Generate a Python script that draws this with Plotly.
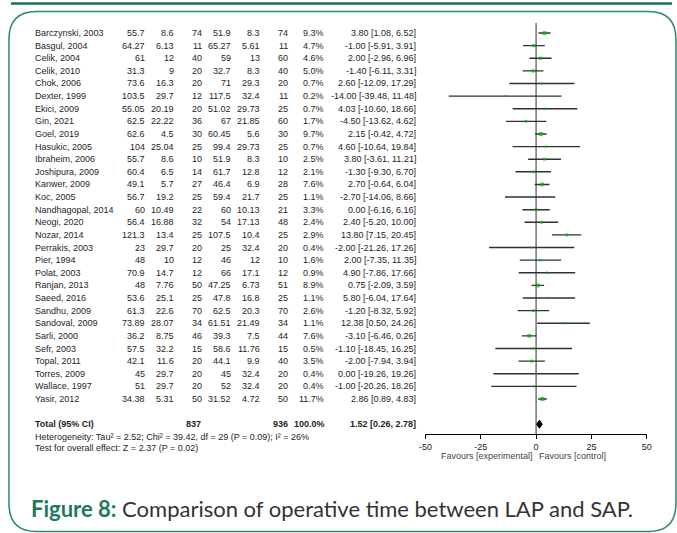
import plotly.graph_objects as go

W, H = 677, 533

studies = ["Barczynski, 2003", "Basgul, 2004", "Celik, 2004", "Celik, 2010", "Chok, 2006",
           "Dexter, 1999", "Ekici, 2009", "Gin, 2021", "Goel, 2019", "Hasukic, 2005",
           "Ibraheim, 2006", "Joshipura, 2009", "Kanwer, 2009", "Koc, 2005", "Nandhagopal, 2014",
           "Neogi, 2020", "Nozar, 2014", "Perrakis, 2003", "Pier, 1994", "Polat, 2003",
           "Ranjan, 2013", "Saeed, 2016", "Sandhu, 2009", "Sandoval, 2009", "Sarli, 2000",
           "Sefr, 2003", "Topal, 2011", "Torres, 2009", "Wallace, 1997", "Yasir, 2012"]
mean_exp = [55.7, 64.27, 61, 31.3, 73.6, 103.5, 55.05, 62.5, 62.6, 104,
            55.7, 60.4, 49.1, 56.7, 60, 56.4, 121.3, 23, 48, 70.9,
            48, 53.6, 61.3, 73.89, 36.2, 57.5, 42.1, 45, 51, 34.38]
sd_exp = [8.6, 6.13, 12, 9, 16.3, 29.7, 20.19, 22.22, 4.5, 25.04,
          8.6, 6.5, 5.7, 19.2, 10.49, 16.88, 13.4, 29.7, 10, 14.7,
          7.76, 25.1, 22.6, 28.07, 8.75, 32.2, 11.6, 29.7, 29.7, 5.31]
n_exp = [74, 11, 40, 20, 20, 12, 20, 36, 30, 25,
         10, 14, 27, 25, 22, 32, 25, 20, 12, 12,
         50, 25, 70, 34, 46, 15, 20, 20, 20, 50]
mean_ctl = [51.9, 65.27, 59, 32.7, 71, 117.5, 51.02, 67, 60.45, 99.4,
            51.9, 61.7, 46.4, 59.4, 60, 54, 107.5, 25, 46, 66,
            47.25, 47.8, 62.5, 61.51, 39.3, 58.6, 44.1, 45, 52, 31.52]
sd_ctl = [8.3, 5.61, 13, 8.3, 29.3, 32.4, 29.73, 21.85, 5.6, 29.73,
          8.3, 12.8, 6.9, 21.7, 10.13, 17.13, 10.4, 32.4, 12, 17.1,
          6.73, 16.8, 20.3, 21.49, 7.5, 11.76, 9.9, 32.4, 32.4, 4.72]
n_ctl = [74, 11, 60, 40, 20, 11, 25, 60, 30, 25,
         10, 12, 28, 25, 21, 48, 25, 20, 10, 12,
         51, 25, 70, 34, 44, 15, 40, 20, 20, 50]
weight = [9.3, 4.7, 4.6, 5.0, 0.7, 0.2, 0.7, 1.7, 9.7, 0.7,
          2.5, 2.1, 7.6, 1.1, 3.3, 2.4, 2.9, 0.4, 1.6, 0.9,
          8.9, 1.1, 2.6, 1.1, 7.6, 0.5, 3.5, 0.4, 0.4, 11.7]
md = [3.80, -1.00, 2.00, -1.40, 2.60, -14.00, 4.03, -4.50, 2.15, 4.60,
      3.80, -1.30, 2.70, -2.70, 0.00, 2.40, 13.80, -2.00, 2.00, 4.90,
      0.75, 5.80, -1.20, 12.38, -3.10, -1.10, -2.00, 0.00, -1.00, 2.86]
ci_low = [1.08, -5.91, -2.96, -6.11, -12.09, -39.48, -10.60, -13.62, -0.42, -10.64,
          -3.61, -9.30, -0.64, -14.06, -6.16, -5.20, 7.15, -21.26, -7.35, -7.86,
          -2.09, -6.04, -8.32, 0.50, -6.46, -18.45, -7.94, -19.26, -20.26, 0.89]
ci_high = [6.52, 3.91, 6.96, 3.31, 17.29, 11.48, 18.66, 4.62, 4.72, 19.84,
           11.21, 6.70, 6.04, 8.66, 6.16, 10.00, 20.45, 17.26, 11.35, 17.66,
           3.59, 17.64, 5.92, 24.26, 0.26, 16.25, 3.94, 19.26, 18.26, 4.83]
total_exp = 837
total_ctl = 936
total_weight = 100.0
total_md = 1.52
total_low = 0.26
total_high = 2.78
heterogeneity = "Heterogeneity: Tau² = 2.52; Chi² = 39.42, df = 29 (P = 0.09); I² = 26%"
overall_test = "Test for overall effect: Z = 2.37 (P = 0.02)"
x_ticks = [-50, -25, 0, 25, 50]
x_labels = ["-50", "-25", "0", "25", "50"]
favours = ["Favours [experimental]", "Favours [control]"]
caption_bold = "Figure 8:"
caption_rest = " Comparison of operative time between LAP and SAP."

# ---------- layout helpers ----------
ROW0, ROWH = 33.0, 12.62      # pixel y of first row, row spacing


def fx(px):
    return px / W


def fy(py):
    return 1 - py / H


def row_of(py):
    return (py - ROW0) / ROWH


FONT = "Liberation Sans, Arial, sans-serif"
TXT = "#1e1e1e"
rows = list(range(len(studies)))
total_row = len(studies) + 1

fig = go.Figure()

# CI lines + weighted squares
fig.add_trace(go.Scatter(
    x=md, y=rows, mode="markers",
    marker=dict(symbol="square", color="#00b400",
                size=[1.6 + 0.75 * w ** 0.5 for w in weight], line=dict(width=0)),
    error_x=dict(type="data", symmetric=False,
                 array=[h - m for h, m in zip(ci_high, md)],
                 arrayminus=[m - l for m, l in zip(md, ci_low)],
                 color="#303030", thickness=1.4, width=0),
    hoverinfo="skip", showlegend=False, cliponaxis=False))

# pooled diamond
dh = 4 / ROWH
fig.add_trace(go.Scatter(
    x=[total_low, total_md, total_high, total_md, total_low],
    y=[total_row, total_row - dh, total_row, total_row + dh, total_row],
    mode="lines", fill="toself", fillcolor="black",
    line=dict(color="black", width=1), hoverinfo="skip", showlegend=False))

ann = []


def txt(x, y, s, anchor="right", bold=False, size=9, color=TXT, yref="y"):
    if bold:
        s = "<b>" + s + "</b>"
    ann.append(dict(x=fx(x), xref="paper", y=y, yref=yref, text=s, showarrow=False,
                    xanchor=anchor, yanchor="middle",
                    font=dict(family=FONT, size=size, color=color)))


col_right = [142.7, 172.3, 200.3, 230.0, 259.3, 288.0, 325.0, 418.0]
for i in rows:
    txt(26, i, studies[i], anchor="left")
    vals = [str(mean_exp[i]), str(sd_exp[i]), str(n_exp[i]), str(mean_ctl[i]),
            str(sd_ctl[i]), str(n_ctl[i]), "%.1f%%" % weight[i],
            "%.2f [%.2f, %.2f]" % (md[i], ci_low[i], ci_high[i])]
    for xr, v in zip(col_right, vals):
        txt(xr, i, v)

txt(26, total_row, "Total (95% CI)", anchor="left", bold=True)
txt(199.3, total_row, str(total_exp), bold=True)
txt(288.0, total_row, str(total_ctl), bold=True)
txt(326.0, total_row, "%.1f%%" % total_weight, bold=True)
txt(418.0, total_row, "%.2f [%.2f, %.2f]" % (total_md, total_low, total_high), bold=True)
txt(26, row_of(436.5), heterogeneity, anchor="left")
txt(26, row_of(447.5), overall_test, anchor="left")

# favours labels
ann.append(dict(x=fx(488.3), xref="paper", y=fy(456), yref="paper", text=favours[0],
                showarrow=False, xanchor="center", yanchor="middle",
                font=dict(family=FONT, size=9, color="#444444")))
ann.append(dict(x=fx(576), xref="paper", y=fy(456), yref="paper", text=favours[1],
                showarrow=False, xanchor="center", yanchor="middle",
                font=dict(family=FONT, size=9, color="#444444")))

# caption
ann.append(dict(x=fx(22), xref="paper", y=fy(508), yref="paper",
                text="<b><span style='color:#1b7a5e'>" + caption_bold + "</span></b>" + caption_rest,
                showarrow=False, xanchor="left", yanchor="middle",
                font=dict(family="Lato, Open Sans, sans-serif", size=22, color="#333333")))

# ---------- decorative frame ----------
def P(x, y):
    return "%.5f,%.5f" % (fx(x), fy(y))


L, R, T, B, r = 2.0, 681.0, 11.5, 531.5, 28.0
frame = ("M " + P(L + r, T) + " L " + P(R - r, T) + " Q " + P(R, T) + " " + P(R, T + r) +
         " L " + P(R, B - r) + " Q " + P(R, B) + " " + P(R - r, B) +
         " L " + P(L + r, B) + " Q " + P(L, B) + " " + P(L, B - r) +
         " L " + P(L, T + r) + " Q " + P(L, T) + " " + P(L + r, T) + " Z")

shapes = [
    dict(type="path", path=frame, xref="paper", yref="paper",
         line=dict(color="#2a8a6e", width=1.5), fillcolor="rgba(0,0,0,0)", layer="below"),
    dict(type="line", xref="paper", yref="paper", x0=fx(4), x1=fx(677), y0=fy(3.5), y1=fy(3.5),
         line=dict(color="#17705a", width=2.5)),
    dict(type="line", xref="x", yref="paper", x0=0, x1=0, y0=fy(434), y1=fy(23),
         line=dict(color="#6a6a6a", width=1.4), layer="below"),
]

fig.update_layout(
    width=W, height=H, margin=dict(l=0, r=0, t=0, b=0),
    paper_bgcolor="white", plot_bgcolor="rgba(0,0,0,0)",
    showlegend=False, annotations=ann, shapes=shapes,
    xaxis=dict(domain=[fx(426), fx(651.3)], range=[-50, 50], anchor="free", position=fy(434),
               showgrid=False, zeroline=False, showline=True, linecolor="black", linewidth=1.2,
               ticks="outside", ticklen=4, tickwidth=1.2, tickcolor="black",
               tickvals=x_ticks, ticktext=x_labels,
               tickfont=dict(family=FONT, size=9, color="#222222")),
    yaxis=dict(domain=[0, 1], range=[row_of(H), row_of(0)], visible=False,
               showgrid=False, zeroline=False),
)

fig.write_html("out.html")
